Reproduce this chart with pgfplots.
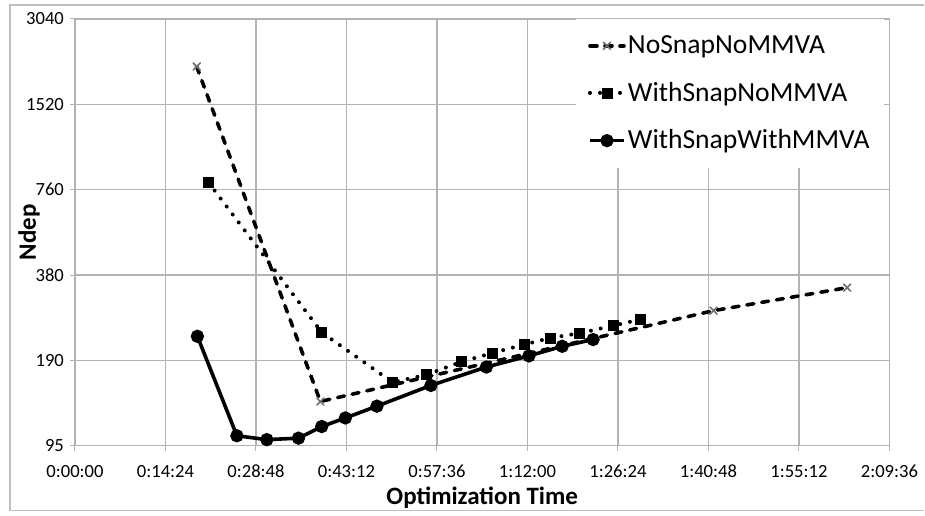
\documentclass[border=0pt]{standalone}
\usepackage{pgfplots}
\pgfplotsset{compat=1.18}
\usepackage{fontspec}
\setmainfont{Carlito}
\definecolor{gridc}{RGB}{179,179,179}
\definecolor{framec}{RGB}{191,191,191}
\definecolor{xmarkc}{RGB}{110,110,110}
\begin{document}
\begin{tikzpicture}
\begin{axis}[
  scale only axis,
  width=407.5pt, height=213.5pt,
  xmin=0, xmax=7776,
  ymode=log, log basis y=2,
  ymin=95, ymax=3040,
  xtick={0,864,1728,2592,3456,4320,5184,6048,6912,7776},
  xticklabels={0:00:00,0:14:24,0:28:48,0:43:12,0:57:36,1:12:00,1:26:24,1:40:48,1:55:12,2:09:36},
  ytick={95,190,380,760,1520,3040},
  yticklabels={95,190,380,760,1520,3040},
  minor ytick={}, 
  xtick pos=left, ytick pos=left,
  tick align=outside,
  major tick length=2.5pt,
  tick style={gridc, line width=0.5pt},
  grid=major,
  major grid style={gridc, line width=0.6pt},
  axis line style={gridc, line width=0.6pt},
  tick label style={font=\fontsize{9.3pt}{11pt}\selectfont, text=black},
  yticklabel style={xshift=0.5pt},
  xticklabel style={anchor=base, yshift=-13.25pt},
  xlabel={\textbf{Optimization Time}},
  ylabel={\textbf{Ndep}},
  xlabel style={font=\fontsize{12.5pt}{14pt}\selectfont, at={(axis description cs:0.5,-0.1382)}, anchor=base},
  ylabel style={font=\fontsize{12.5pt}{14pt}\selectfont, at={(axis description cs:-0.0479,0.5)}, anchor=base},
  legend cell align=left,
  legend image code/.code={\draw[mark repeat=2,mark phase=2,#1] plot coordinates {(0pt,0pt) (8.5pt,0pt) (17pt,0pt)};},
  legend style={at={(axis description cs:0.6147,1)}, anchor=north west, draw=none, fill=white,
    font=\fontsize{13.8pt}{15pt}\selectfont, inner xsep=6pt, inner ysep=6pt,
    row sep=8.8pt,
    nodes={inner xsep=1pt}},
]
\addplot[black, line width=1.8pt, line cap=round, dash pattern=on 3.5pt off 4pt,
  mark=x, mark size=2.5pt, mark options={solid, xmarkc, line width=0.8pt}]
  coordinates {(1162,2066) (2343,136) (6097,284.5) (7373,343)};
\addlegendentry{NoSnapNoMMVA}
\addplot[black, line width=2pt, line cap=round, dash pattern=on 0pt off 5pt,
  mark=square*, mark size=2.5pt, mark options={solid, line width=0.4pt}]
  coordinates {(1276,805) (2356,238.5) (3032,159) (3356,169) (3693,188) (3982,201.5) (4287,216) (4541,228) (4820,237) (5144,252) (5398,265)};
\addlegendentry{WithSnapNoMMVA}
\addplot[black, line width=1.8pt,
  mark=*, mark size=2.4pt, mark options={solid}]
  coordinates {(1169,231) (1546,103) (1832,99.8) (2134,101) (2356,111) (2582,119) (2883,131) (3398,155) (3928,180) (4334,197) (4652,213) (4947,225)};
\addlegendentry{WithSnapWithMMVA}
\end{axis}
\draw[framec, line width=0.6pt] (425pt,220.5pt) -- (-32.5pt,220.5pt) -- (-32.5pt,-32.5pt) -- (425pt,-32.5pt);
\useasboundingbox (-37.5pt,-33.5pt) rectangle (425pt,223pt);
\end{tikzpicture}
\end{document}
